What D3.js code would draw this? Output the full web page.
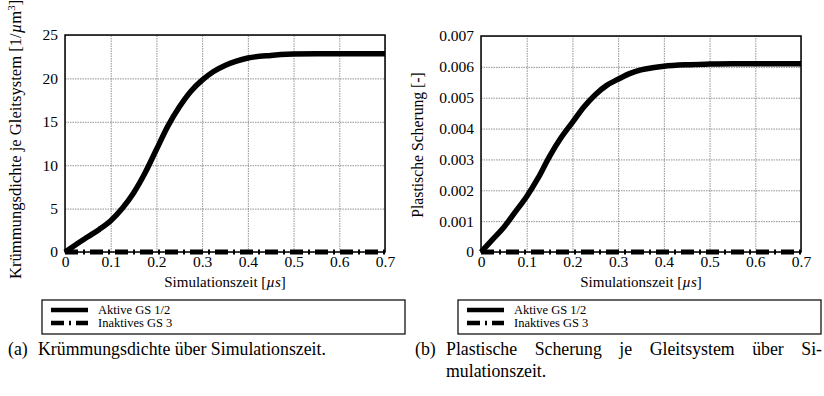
<!DOCTYPE html>
<html>
<head>
<meta charset="utf-8">
<script src="https://cdn.jsdelivr.net/npm/d3@7"></script>
<style>
	body { margin: 0; background: #fff; }
	svg text { font-family: "Liberation Serif", "Times New Roman", serif; }
</style>
</head>
<body>
<script>
// Simulationszeit in µs
const timeValues = [0, 0.025, 0.05, 0.075, 0.1, 0.125, 0.15, 0.175, 0.2, 0.225, 0.25, 0.275, 0.3, 0.325, 0.35, 0.375, 0.4, 0.45, 0.5, 0.55, 0.6, 0.65, 0.7];

// (a) Kruemmungsdichte
const activeDensity = [0, 0.9, 1.75, 2.6, 3.6, 5.0, 6.8, 9.1, 11.8, 14.5, 16.7, 18.5, 19.8, 20.8, 21.5, 22.0, 22.35, 22.65, 22.8, 22.85, 22.85, 22.85, 22.85];
const inactiveDensity = [0, 0, 0, 0, 0, 0, 0, 0, 0, 0, 0, 0, 0, 0, 0, 0, 0, 0, 0, 0, 0, 0, 0];

// (b) Plastische Scherung
const activeShear = [0, 0.0004, 0.0008, 0.0013, 0.0018, 0.0024, 0.0031, 0.0037, 0.0042, 0.0047, 0.0051, 0.0054, 0.0056, 0.00578, 0.0059, 0.00597, 0.00602, 0.00607, 0.00609, 0.0061, 0.0061, 0.0061, 0.0061];
const inactiveShear = [0, 0, 0, 0, 0, 0, 0, 0, 0, 0, 0, 0, 0, 0, 0, 0, 0, 0, 0, 0, 0, 0, 0];

const timeTicks = [0, 0.1, 0.2, 0.3, 0.4, 0.5, 0.6, 0.7];
const densityTicks = [0, 5, 10, 15, 20, 25];
const shearTicks = [0, 0.001, 0.002, 0.003, 0.004, 0.005, 0.006, 0.007];

const legendLabels = ["Aktive GS 1/2", "Inaktives GS 3"];

const serif = "Liberation Serif, Times New Roman, serif";
const captionSize = 17.8;

const svg = d3.select("body")
	.append("svg")
	.attr("width", 824)
	.attr("height", 396)
	.attr("font-family", serif);

drawPanel({
	left: 65, right: 385, top: 35, bottom: 252,
	yMax: 25, yTicks: densityTicks, yFormat: (d) => d,
	active: activeDensity, inactive: inactiveDensity,
	legendX: 42
});
drawPanel({
	left: 481, right: 801, top: 36, bottom: 252,
	yMax: 0.007, yTicks: shearTicks, yFormat: (d) => (d === 0 ? "0" : d3.format(".3f")(d)),
	active: activeShear, inactive: inactiveShear,
	legendX: 458
});

// y axis titles
let labelA = svg.append("text")
	.attr("transform", "translate(21,279) rotate(-90)")
	.attr("font-family", serif)
	.attr("font-size", 16.6);
labelA.append("tspan").text("Krümmungsdichte je Gleitsystem [1/");
labelA.append("tspan").attr("font-style", "italic").text("µ");
labelA.append("tspan").text("m");
labelA.append("tspan").attr("font-size", 11).attr("dy", -6).text("3");
labelA.append("tspan").attr("dy", 6).text("]");

svg.append("text")
	.attr("transform", "translate(423,145) rotate(-90)")
	.attr("text-anchor", "middle")
	.attr("font-family", serif)
	.attr("font-size", 15.7)
	.text("Plastische Scherung [-]");

// captions
addCaption(8, 355, "(a)");
addCaption(38, 355, "Krümmungsdichte über Simulationszeit.");
addCaption(415, 355, "(b)");
let capB = addCaption(446, 355, "Plastische Scherung je Gleitsystem über Si-");
addCaption(446, 377, "mulationszeit.");

// justified first line, like the LaTeX caption
let gaps = 5;
let ws = (822 - 446 - capB.node().getComputedTextLength()) / gaps;
capB.attr("word-spacing", Math.max(0, ws));
ws += (822 - 446 - capB.node().getComputedTextLength()) / gaps;
capB.attr("word-spacing", Math.max(0, ws));

function addCaption(x, y, txt) {
	return svg.append("text")
		.attr("x", x).attr("y", y)
		.attr("font-family", serif)
		.attr("font-size", captionSize)
		.text(txt);
}

function drawPanel(p) {
	let xScale = d3.scaleLinear().domain([0, 0.7]).range([p.left, p.right]);
	let yScale = d3.scaleLinear().domain([0, p.yMax]).range([p.bottom, p.top]);
	let g = svg.append("g");

	// grid
	g.append("g")
		.attr("transform", "translate(0," + p.bottom + ")")
		.call(d3.axisBottom(xScale).tickValues(timeTicks).tickSize(-(p.bottom - p.top)).tickFormat(""))
		.call((a) => a.select(".domain").remove())
		.selectAll("line")
		.attr("stroke", "#777")
		.attr("stroke-width", 0.8)
		.attr("stroke-dasharray", "1.5,1");
	g.append("g")
		.attr("transform", "translate(" + p.left + ",0)")
		.call(d3.axisLeft(yScale).tickValues(p.yTicks).tickSize(-(p.right - p.left)).tickFormat(""))
		.call((a) => a.select(".domain").remove())
		.selectAll("line")
		.attr("stroke", "#777")
		.attr("stroke-width", 0.8)
		.attr("stroke-dasharray", "1.5,1");

	// tick labels
	g.append("g")
		.attr("transform", "translate(0," + p.bottom + ")")
		.call(d3.axisBottom(xScale).tickValues(timeTicks).tickSize(0).tickPadding(4).tickFormat((d) => d))
		.call((a) => a.select(".domain").remove())
		.attr("font-family", serif)
		.attr("font-size", 15.5)
		.selectAll("text")
		.attr("fill", "#000");
	g.append("g")
		.attr("transform", "translate(" + p.left + ",0)")
		.call(d3.axisLeft(yScale).tickValues(p.yTicks).tickSize(0).tickPadding(7).tickFormat(p.yFormat))
		.call((a) => a.select(".domain").remove())
		.attr("font-family", serif)
		.attr("font-size", 15.5)
		.selectAll("text")
		.attr("fill", "#000");

	// frame
	g.append("rect")
		.attr("x", p.left).attr("y", p.top)
		.attr("width", p.right - p.left).attr("height", p.bottom - p.top)
		.attr("fill", "none").attr("stroke", "#000").attr("stroke-width", 1.5);

	let line = d3.line()
		.x((d, i) => xScale(timeValues[i]))
		.y((d) => yScale(d))
		.curve(d3.curveMonotoneX);

	g.append("path")
		.attr("d", line(p.inactive))
		.attr("fill", "none").attr("stroke", "#000").attr("stroke-width", 5)
		.attr("stroke-dasharray", "13,5,2,5");
	g.append("path")
		.attr("d", line(p.active))
		.attr("fill", "none").attr("stroke", "#000").attr("stroke-width", 5.5);

	// x axis title
	let xt = g.append("text")
		.attr("x", (p.left + p.right) / 2).attr("y", 287)
		.attr("text-anchor", "middle")
		.attr("font-family", serif)
		.attr("font-size", 15);
	xt.append("tspan").text("Simulationszeit [");
	xt.append("tspan").attr("font-style", "italic").text("µs");
	xt.append("tspan").text("]");

	// legend
	let lg = g.append("g").attr("transform", "translate(" + p.legendX + ",300)");
	lg.append("rect")
		.attr("width", 363).attr("height", 34)
		.attr("fill", "none").attr("stroke", "#000").attr("stroke-width", 1.2);
	lg.selectAll("line.sample")
		.data(legendLabels)
		.enter()
		.append("line")
		.attr("class", "sample")
		.attr("x1", 9).attr("x2", 46)
		.attr("y1", (d, i) => 10 + i * 13).attr("y2", (d, i) => 10 + i * 13)
		.attr("stroke", "#000").attr("stroke-width", 4.5)
		.attr("stroke-dasharray", (d, i) => i ? "13,5,2,5" : null);
	lg.selectAll("text")
		.data(legendLabels)
		.enter()
		.append("text")
		.attr("x", 56).attr("y", (d, i) => 13.5 + i * 13)
		.attr("font-family", serif)
		.attr("font-size", 12.5)
		.text((d) => d);
}
</script>
</body>
</html>
